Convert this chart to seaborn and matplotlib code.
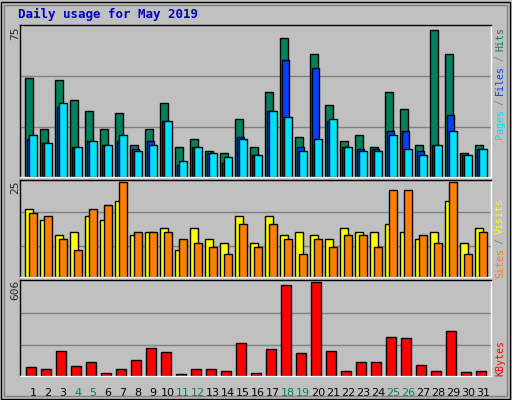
import matplotlib
matplotlib.use("Agg")
import matplotlib.pyplot as plt
import seaborn as sns
import numpy as np

sns.set_style("white")
plt.rcParams['font.family'] = ['DejaVu Sans Mono']

days = list(range(1, 32))
hits = [49,24,48,38,33,24,32,16,24,37,15,19,13,12,29,15,42,69,20,61,36,18,21,15,42,34,16,73,61,12,16]
files = [19,17,35,15,18,16,18,14,18,28,6,15,12,7,20,11,33,58,15,54,28,15,14,14,23,23,13,16,31,11,14]
pages = [21,17,37,15,18,16,21,13,16,28,8,15,12,10,19,11,33,30,13,19,29,15,13,13,21,14,11,16,23,11,14]
visits = [18,15,11,12,16,15,20,11,12,13,7,13,10,9,16,9,16,11,12,11,10,13,12,12,14,12,10,12,20,9,13]
sites = [17,16,10,7,18,19,25,12,12,12,10,9,8,6,14,8,14,10,6,10,8,11,11,8,23,23,11,9,25,6,12]
kbytes = [55,42,161,62,88,22,42,102,181,155,15,42,42,35,215,22,175,586,148,606,161,35,88,88,254,248,69,35,288,29,35]
weekend = {4,5,11,12,18,19,25,26}

W, H = 512, 400
fig = plt.figure(figsize=(W/100, H/100), dpi=100)
fig.patch.set_facecolor('#C0C0C0')
fig.patches.append(plt.Rectangle((1/W, 1/H), 1-3/W, 1-3/H, transform=fig.transFigure,
                                 fill=False, edgecolor='black', lw=1))
fig.patches.append(plt.Rectangle((4/W, 4/H), 1-9/W, 1-9/H, transform=fig.transFigure,
                                 fill=False, edgecolor='#808080', lw=1))

x = np.array(days)
def mkax(top, bottom, ymax, grids):
    ax = fig.add_axes([20/W, 1-bottom/H, 471/W, (bottom-top)/H])
    ax.set_facecolor('#C0C0C0')
    ax.set_xlim(0.13, 31.53)
    ax.set_ylim(0, ymax)
    for g in grids:
        ax.axhline(g, color='#808080', lw=1, zorder=0)
    ax.set_xticks([]); ax.set_yticks([])
    for s in ax.spines.values():
        s.set_color('white'); s.set_linewidth(1)
    ax.spines['left'].set_color('black'); ax.spines['top'].set_color('black')
    return ax

ax1 = mkax(25, 177, 75.5, [25, 50])
ax1.bar(x-0.51, hits, width=0.49, align='edge', color='#00805C', edgecolor='black', lw=1)
ax1.bar(x-0.42, files, width=0.49, align='edge', color='#0040FF', edgecolor='black', lw=1)
ax1.bar(x-0.25, pages, width=0.49, align='edge', color='#00E0FF', edgecolor='black', lw=1)

ax2 = mkax(180, 277, 25.6, [8.15, 17.1])
ax2.bar(x-0.51, visits, width=0.53, align='edge', color='#FFFF00', edgecolor='black', lw=1)
ax2.bar(x-0.25, sites, width=0.53, align='edge', color='#FF8000', edgecolor='black', lw=1)

ax3 = mkax(280, 376, 620, [202, 404])
ax3.bar(x-0.45, kbytes, width=0.67, align='edge', color='#FF0000', edgecolor='black', lw=1)

for d in days:
    ax3.text(d, -620*(12/96), str(d), ha='center', va='top', fontsize=8,
             family='DejaVu Sans', color='#00805C' if d in weekend else 'black', clip_on=False)

fig.text(18/W, 1-14/H, 'Daily usage for May 2019', color='#0000C0', fontsize=9,
         fontweight='bold', va='center', ha='left')
fig.text(15/W, 1-33/H, '75', rotation=90, fontsize=8, ha='center', va='center')
fig.text(15/W, 1-187/H, '25', rotation=90, fontsize=8, ha='center', va='center')
fig.text(15/W, 1-290/H, '606', rotation=90, fontsize=8, ha='center', va='center')

def rlabel(parts, ycenter):
    total = sum(len(p) for p, c in parts)
    ch = 5.5
    y = ycenter + total*ch/2
    for p, c in parts:
        n = len(p)
        fig.text(500/W, 1-(y - n*ch/2)/H, p, rotation=90, color=c, fontsize=7.2,
                 ha='center', va='center')
        y -= n*ch

rlabel([('Pages', '#00E0FF'), (' / ', '#808080'), ('Files', '#0040FF'), (' / ', '#808080'), ('Hits', '#00805C')], 83)
rlabel([('Sites', '#FF8000'), (' / ', '#808080'), ('Visits', '#FFFF00')], 238)
rlabel([('KBytes', '#FF0000')], 358)

fig.savefig('out.png', dpi=100, facecolor=fig.get_facecolor())
